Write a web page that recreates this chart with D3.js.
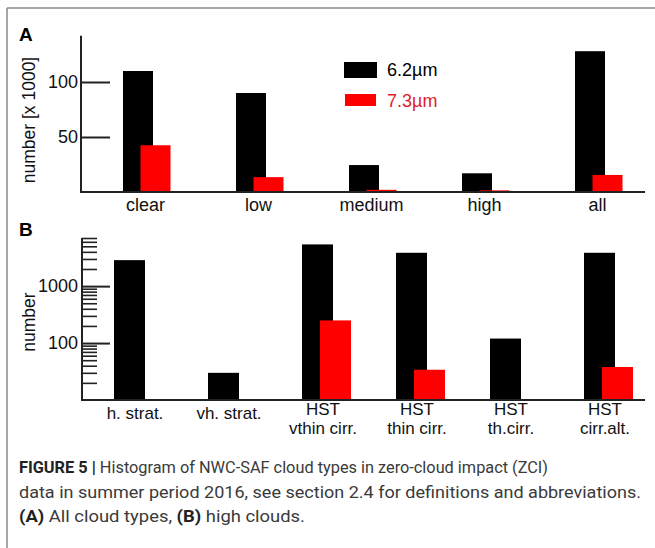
<!DOCTYPE html>
<html>
<head>
<meta charset="utf-8">
<script src="https://cdn.jsdelivr.net/npm/d3@7"></script>
<style>
  body { margin: 0; background: #fff; }
  svg { display: block; font-family: "Liberation Sans", Arial, sans-serif; }
</style>
</head>
<body>
<svg id="fig" width="655" height="548"></svg>
<script>
// panel A: all cloud types, counts in thousands
const catsA = ["clear", "low", "medium", "high", "all"];
const blackA = [110, 90, 24.5, 17, 128];   // 6.2µm
const redA = [42.5, 13.5, 2, 1.5, 15.5];    // 7.3µm
const ticksA = [50, 100];

// panel B: high clouds, log counts
const catsB = [["h. strat."], ["vh. strat."], ["HST", "vthin cirr."], ["HST", "thin cirr."], ["HST", "th.cirr."], ["HST", "cirr.alt."]];
const blackB = [2860, 30, 5400, 3850, 120, 3850];
const redB = [null, null, 250, 34, null, 38];
const majorB = [100, 1000];

const legendItems = [{ label: "6.2µm", color: "#000", text: "#000" }, { label: "7.3µm", color: "#ff0000", text: "#e0202a" }];

const svg = d3.select("#fig");
const axisColor = "#222";

// figure frame
svg.append("line").attr("x1", 7).attr("x2", 7).attr("y1", 8).attr("y2", 548).attr("stroke", "#8a8a8a").attr("stroke-width", 1.5);
svg.append("line").attr("x1", 7).attr("x2", 655).attr("y1", 8).attr("y2", 8).attr("stroke", "#8a8a8a").attr("stroke-width", 1.5);

// ---------- panel A ----------
const xA = d3.scaleBand().domain(catsA).range([90, 655]);
const yA = d3.scaleLinear().domain([0, 100]).range([192, 82]);
const gA = svg.append("g");

gA.append("text").attr("x", 19).attr("y", 41).text("A")
  .style("font-weight", "bold").style("font-size", "19px");

gA.selectAll(".barBlack").data(catsA).enter().append("rect")
  .attr("x", d => xA(d) + xA.bandwidth() / 2 - 23.5)
  .attr("y", (d, i) => yA(blackA[i]))
  .attr("width", 30)
  .attr("height", (d, i) => yA(0) - yA(blackA[i]))
  .attr("fill", "#000");

gA.selectAll(".barRed").data(catsA).enter().append("rect")
  .attr("x", d => xA(d) + xA.bandwidth() / 2 - 6)
  .attr("y", (d, i) => yA(redA[i]))
  .attr("width", 30)
  .attr("height", (d, i) => yA(0) - yA(redA[i]))
  .attr("fill", "#ff0000");

// axes
gA.append("line").attr("x1", 81).attr("x2", 81).attr("y1", yA(142)).attr("y2", yA(0)).attr("stroke", axisColor).attr("stroke-width", 2);
gA.append("line").attr("x1", 80).attr("x2", 645).attr("y1", yA(0)).attr("y2", yA(0)).attr("stroke", axisColor).attr("stroke-width", 2);

const axA = d3.axisRight(yA).tickValues(ticksA).tickSize(29).tickFormat("");
const axAg = gA.append("g").attr("transform", "translate(81,0)").call(axA);
axAg.select(".domain").remove();
axAg.selectAll(".tick line").attr("stroke", axisColor).attr("stroke-width", 2);

gA.selectAll(".tlabA").data(ticksA).enter().append("text")
  .attr("x", 78).attr("y", d => yA(d) + 6)
  .attr("text-anchor", "end").style("font-size", "18px").attr("fill", "#111")
  .text(d => d);

gA.selectAll(".clabA").data(catsA).enter().append("text")
  .attr("x", d => xA(d) + xA.bandwidth() / 2 - 1)
  .attr("y", 211)
  .attr("text-anchor", "middle").style("font-size", "18px").attr("fill", "#111")
  .text(d => d);

gA.append("text")
  .attr("transform", "translate(35,120) rotate(-90)")
  .attr("text-anchor", "middle").style("font-size", "17.5px").attr("fill", "#111")
  .text("number [x 1000]");

// legend
const leg = gA.selectAll(".leg").data(legendItems).enter().append("g")
  .attr("transform", (d, i) => `translate(345,${63 + i * 31})`);
leg.append("rect").attr("width", 31).attr("height", (d, i) => i === 0 ? 14 : 12)
  .attr("fill", d => d.color)
  .attr("stroke", (d, i) => i === 0 ? "#000" : "none").attr("stroke-width", 2);
leg.append("text").attr("x", 42).attr("y", 13)
  .style("font-size", "18px").attr("fill", d => d.text)
  .text(d => d.label);

// ---------- panel B ----------
const keysB = catsB.map(d => d.join(" "));
const xB = d3.scaleBand().domain(keysB).range([91, 655]);
const yB = d3.scaleLog().domain([10, 7000]).range([400, 238]);
const gB = svg.append("g");

gB.append("text").attr("x", 19).attr("y", 236).text("B")
  .style("font-weight", "bold").style("font-size", "19px");

gB.selectAll(".barBlack").data(keysB).enter().append("rect")
  .attr("x", d => xB(d) + xB.bandwidth() / 2 - 24)
  .attr("y", (d, i) => yB(blackB[i]))
  .attr("width", 31)
  .attr("height", (d, i) => yB(10) - yB(blackB[i]))
  .attr("fill", "#000");

gB.selectAll(".barRed").data(keysB.filter((d, i) => redB[i] != null)).enter().append("rect")
  .attr("x", d => xB(d) + xB.bandwidth() / 2 - 6)
  .attr("y", d => yB(redB[keysB.indexOf(d)]))
  .attr("width", 31)
  .attr("height", d => yB(10) - yB(redB[keysB.indexOf(d)]))
  .attr("fill", "#ff0000");

// log ticks: minor then major
const minorB = [];
[10, 100, 1000].forEach(dec => {
  for (let k = 2; k <= 9; k++) if (dec * k <= 7000) minorB.push(dec * k);
});
const axBmin = d3.axisRight(yB).tickValues(minorB).tickSize(15).tickFormat("");
const axBming = gB.append("g").attr("transform", "translate(82,0)").call(axBmin);
axBming.select(".domain").remove();
axBming.selectAll(".tick line").attr("stroke", axisColor).attr("stroke-width", 1.6);

const axBmaj = d3.axisRight(yB).tickValues(majorB).tickSize(28).tickFormat("");
const axBmajg = gB.append("g").attr("transform", "translate(82,0)").call(axBmaj);
axBmajg.select(".domain").remove();
axBmajg.selectAll(".tick line").attr("stroke", axisColor).attr("stroke-width", 2);

gB.append("line").attr("x1", 82).attr("x2", 82).attr("y1", yB(7000)).attr("y2", yB(10)).attr("stroke", axisColor).attr("stroke-width", 2);
gB.append("line").attr("x1", 81).attr("x2", 645).attr("y1", yB(10)).attr("y2", yB(10)).attr("stroke", axisColor).attr("stroke-width", 2);

gB.selectAll(".tlabB").data(majorB).enter().append("text")
  .attr("x", 78).attr("y", d => yB(d) + 6)
  .attr("text-anchor", "end").style("font-size", "18px").attr("fill", "#111")
  .text(d => d);

// category labels, one text element per line
const clabB = gB.selectAll(".clabB").data(catsB).enter().append("g")
  .attr("transform", (d, i) => `translate(${xB(keysB[i]) + xB.bandwidth() / 2 - 3},0)`);
clabB.selectAll("text").data(d => d.map((s, j) => ({ s, j, n: d.length }))).enter().append("text")
  .attr("y", d => d.n === 1 ? 419 : 415 + d.j * 18.5)
  .attr("text-anchor", "middle").style("font-size", "17px").attr("fill", "#111")
  .text(d => d.s);

gB.append("text")
  .attr("transform", "translate(35,322) rotate(-90)")
  .attr("text-anchor", "middle").style("font-size", "17.5px").attr("fill", "#111")
  .text("number");

// ---------- caption ----------
const captionLines = [
  { parts: [["FIGURE 5 | ", true], ["Histogram of NWC-SAF cloud types in zero-cloud impact (ZCI)", false]], len: 529 },
  { parts: [["data in summer period 2016, see section 2.4 for definitions and abbreviations.", false]], len: 622 },
  { parts: [["(A)", true], [" All cloud types, ", false], ["(B)", true], [" high clouds.", false]], len: 286 }
];
const cap = svg.selectAll(".cap").data(captionLines).enter().append("text")
  .attr("x", 19).attr("y", (d, i) => 473 + i * 24.5)
  .style("font-family", "Roboto, 'Liberation Sans', sans-serif")
  .style("font-size", "17px").attr("fill", "#3a3a3a");
cap.selectAll("tspan").data(d => d.parts).enter().append("tspan")
  .style("font-weight", d => d[1] ? "bold" : "normal")
  .attr("fill", d => d[1] ? "#222" : "#3a3a3a")
  .text(d => d[0]);
// stretch or squeeze each line to the width of the printed caption
cap.each(function (d) {
  const w = this.getComputedTextLength();
  if (Math.abs(w - d.len) > 2) d3.select(this).attr("textLength", d.len).attr("lengthAdjust", "spacingAndGlyphs");
});
</script>
</body>
</html>
